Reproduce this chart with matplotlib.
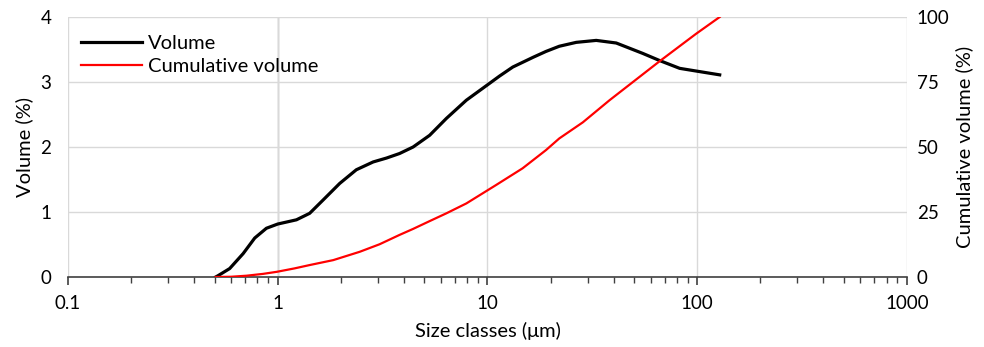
import numpy as np
import matplotlib.pyplot as plt
from matplotlib.ticker import FixedLocator, NullFormatter

plt.rcParams['font.family'] = ['Lato', 'DejaVu Sans']

# Volume distribution (black, left axis)
vol_size = [0.506, 0.519, 0.590, 0.684, 0.777, 0.883, 1.0, 1.228, 1.42, 1.64, 1.975,
            2.37, 2.85, 3.30, 3.81, 4.42, 5.30, 6.37, 7.93, 9.94, 11.4, 13.2, 16.5,
            19.0, 22.0, 26.5, 33.0, 41.1, 55.0, 66.2, 82.5, 102.7, 128.0]
vol_pct = [0.0, 0.02, 0.13, 0.36, 0.60, 0.75, 0.815, 0.88, 0.98, 1.18, 1.44,
           1.65, 1.77, 1.83, 1.90, 2.0, 2.18, 2.44, 2.72, 2.95, 3.09, 3.23, 3.38,
           3.47, 3.55, 3.61, 3.64, 3.60, 3.44, 3.33, 3.21, 3.16, 3.11]

# Cumulative volume (red, right axis)
cum_size = [0.506, 0.6, 0.71, 0.85, 0.99, 1.2, 1.42, 1.84, 2.46, 3.06, 3.81, 4.42,
            5.3, 6.37, 7.93, 9.94, 11.0, 14.7, 19.0, 22.0, 28.5, 38.2, 66.2, 98.6, 128.0]
cum_pct = [0.0, 0.1, 0.5, 1.2, 2.0, 3.3, 4.6, 6.5, 9.7, 12.6, 16.2, 18.5,
           21.5, 24.5, 28.3, 33.2, 35.4, 41.8, 48.8, 53.3, 59.5, 68.0, 83.0, 93.5, 100.0]

fig, ax = plt.subplots(figsize=(9.84, 3.47), dpi=100)
fig.subplots_adjust(left=0.0691, right=0.9217, top=0.951, bottom=0.2017)

ax.set_xscale('log')
ax.set_xlim(0.1, 1000)
ax.set_ylim(0, 4)
ax.set_yticks([0, 1, 2, 3, 4])
ax.xaxis.set_major_locator(FixedLocator([0.1, 1, 10, 100, 1000]))
ax.set_xticklabels(['0.1', '1', '10', '100', '1000'])
minors = [m * 10.0 ** e for e in range(-1, 3) for m in range(2, 10)]
ax.xaxis.set_minor_locator(FixedLocator(minors))
ax.xaxis.set_minor_formatter(NullFormatter())

ax.grid(True, which='major', color='#d9d9d9', linewidth=1.0)
ax.set_axisbelow(True)
ax.axvline(1, color='#b0b0b0', linewidth=1.0, zorder=0.5)
for s in ['left', 'right', 'top']:
    ax.spines[s].set_visible(False)
ax.spines['bottom'].set_color('#404040')
ax.spines['bottom'].set_linewidth(1.2)
ax.tick_params(axis='x', which='major', length=6, width=1.2, color='#404040',
               labelsize=13.5, pad=7)
ax.tick_params(axis='x', which='minor', length=4, width=1.0, color='#404040')
ax.tick_params(axis='y', length=0, labelsize=13.5, pad=12)

ax.plot(vol_size, vol_pct, color='black', linewidth=2.3, label='Volume')

ax2 = ax.twinx()
ax2.set_ylim(0, 100)
ax2.set_yticks([0, 25, 50, 75, 100])
for s in ['left', 'right', 'top', 'bottom']:
    ax2.spines[s].set_visible(False)
ax2.tick_params(axis='y', length=0, labelsize=13.5, pad=7)
ax2.plot(cum_size, cum_pct, color='#ff0000', linewidth=1.6, label='Cumulative volume')

ax.set_xlabel('Size classes (μm)', fontsize=14.5, labelpad=7)
ax.set_ylabel('Volume (%)', fontsize=14.5, labelpad=5)
ax2.set_ylabel('Cumulative volume (%)', fontsize=14.5, labelpad=4)

h1, l1 = ax.get_legend_handles_labels()
h2, l2 = ax2.get_legend_handles_labels()
ax2.legend(h1 + h2, l1 + l2, loc='upper left', bbox_to_anchor=(-0.006, 1.0),
           frameon=False, fontsize=14.5, handlelength=3.0, handletextpad=0.3,
           labelspacing=0.3)

fig.savefig('out.png', dpi=100)
